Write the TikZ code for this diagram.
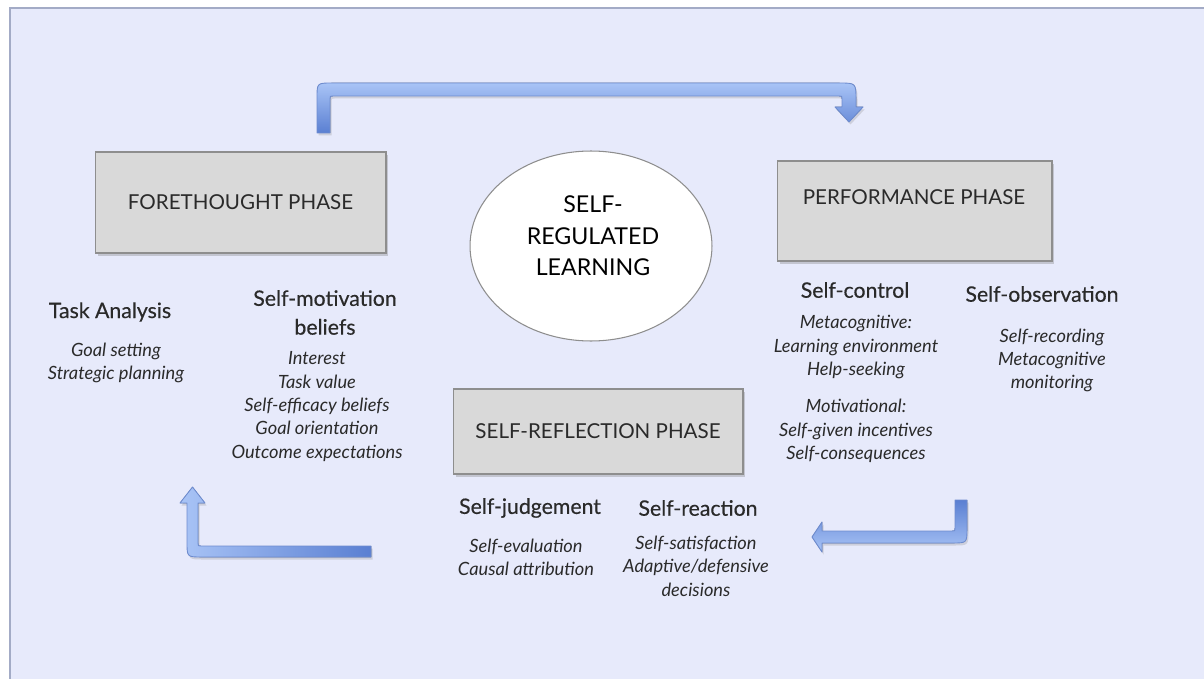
\documentclass[tikz,border=0pt]{standalone}
\usepackage{fontspec}
\setmainfont{Lato}
\newfontfamily\headfont[FakeBold=0.4]{Lato}
\usetikzlibrary{shapes,shadows,positioning}

\definecolor{bglav}{HTML}{E7EAFB}
\definecolor{framegray}{HTML}{A3ABC6}
\definecolor{boxgray}{HTML}{D9D9D9}
\definecolor{boxline}{HTML}{8E8E8E}
\definecolor{inkgray}{HTML}{2A2A2A}
\definecolor{arrowlight}{HTML}{A9C4F6}
\definecolor{arrowdark}{HTML}{5A7FD2}
\definecolor{arrowline}{HTML}{6E8CCF}

\begin{document}
\begin{tikzpicture}[x=0.02cm, y=-0.02cm]
\tikzstyle{phase} = [rectangle, fill=boxgray, draw=boxline, line width=0.6pt,
  text=inkgray, font=\fontsize{11.7}{14}\selectfont,
  drop shadow={shadow xshift=0.5mm, shadow yshift=-0.6mm, opacity=0.35}]
\tikzstyle{phasetext} = [text=inkgray, font=\fontsize{11.7}{14}\selectfont]
\tikzstyle{head} = [text=inkgray, align=center,
  font=\headfont\fontsize{12.1}{16.4}\selectfont]
\tikzstyle{item} = [text=inkgray, align=center,
  font=\itshape\fontsize{10.4}{13.3}\selectfont]
\tikzstyle{blockarrow} = [draw=arrowline, line width=0.5pt, line join=round,
  drop shadow={shadow xshift=0.3mm, shadow yshift=-0.5mm, opacity=0.25}]

\useasboundingbox (0,0) rectangle (1204,679);
\draw[framegray, fill=bglav, line width=0.8pt] (10,8) rectangle (1214,689);

% the three phases
\node[phase, minimum width=5.82cm, minimum height=2.02cm] (fore)
  at (240.5,202.5) {FORETHOUGHT PHASE};
\node[phase, minimum width=5.5cm, minimum height=2cm] (perf) at (914.5,211) {};
\node[phasetext] (perftext) at (914,197) {PERFORMANCE PHASE};
\node[phase, minimum width=5.8cm, minimum height=1.7cm] (refl)
  at (598,431.5) {SELF-REFLECTION PHASE};

\node[ellipse, draw=boxline, fill=white, line width=0.6pt,
  minimum width=4.84cm, minimum height=3.8cm, inner sep=0pt] (srl) at (591,246) {};
\node[text=black, align=center, font=\fontsize{13.2}{17.9}\selectfont] (srltext)
  at (593,236) {SELF-\\REGULATED\\LEARNING};

% forethought
\node[head] (task) at (110,312) {Task Analysis};
\node[item] (taskitems) at (116,363) {Goal setting\\Strategic planning};
\node[head] (motiv) at (325,312.5) {Self-motivation\\beliefs};
\node[item] (motivitems) at (317,406.5)
  {Interest\\Task value\\Self-efficacy beliefs\\Goal orientation\\Outcome expectations};

% performance
\node[head] (control) at (855,290) {Self-control};
\node[item] (controlitems) at (856,389)
  {Metacognitive:\\Learning environment\\Help-seeking\\[8pt]
   Motivational:\\Self-given incentives\\Self-consequences};
\node[head] (observ) at (1042,294) {Self-observation};
\node[item] (observitems) at (1052,360.5)
  {Self-recording\\Metacognitive\\monitoring};

% self-reflection
\node[head] (judge) at (530,508) {Self-judgement};
\node[item] (judgeitems) at (526,557.5) {Self-evaluation\\Causal attribution};
\node[head] (react) at (698,508) {Self-reaction};
\node[item] (reactitems) at (696,566)
  {Self-satisfaction\\Adaptive/defensive\\decisions};

% cycle arrows
\filldraw[blockarrow, top color=arrowlight, bottom color=arrowdark]
  (317,133) -- (317,98) .. controls (317,83) .. (332,83) -- (839,83)
  .. controls (856,83) .. (856,100) -- (856,107) -- (863,107) -- (849,122)
  -- (835,107) -- (842,107) -- (842,99) .. controls (842,96) .. (839,96)
  -- (333,96) .. controls (330,96) .. (330,99) -- (330,133) -- cycle;
\filldraw[blockarrow, top color=arrowdark, bottom color=arrowlight]
  (955,500) -- (967,500) -- (967,528) .. controls (967,543) .. (952,543)
  -- (822,543) -- (822,552) -- (812,537) -- (822,522) -- (822,531)
  -- (952,531) .. controls (955,531) .. (955,528) -- cycle;
\filldraw[blockarrow, left color=arrowlight, right color=arrowdark]
  (371,546) -- (371,557) -- (202,557) .. controls (187,557) .. (187,542)
  -- (187,503) -- (180,503) -- (192.5,487) -- (205,503) -- (198,503)
  -- (198,543) .. controls (198,546) .. (201,546) -- cycle;
\end{tikzpicture}
\end{document}
